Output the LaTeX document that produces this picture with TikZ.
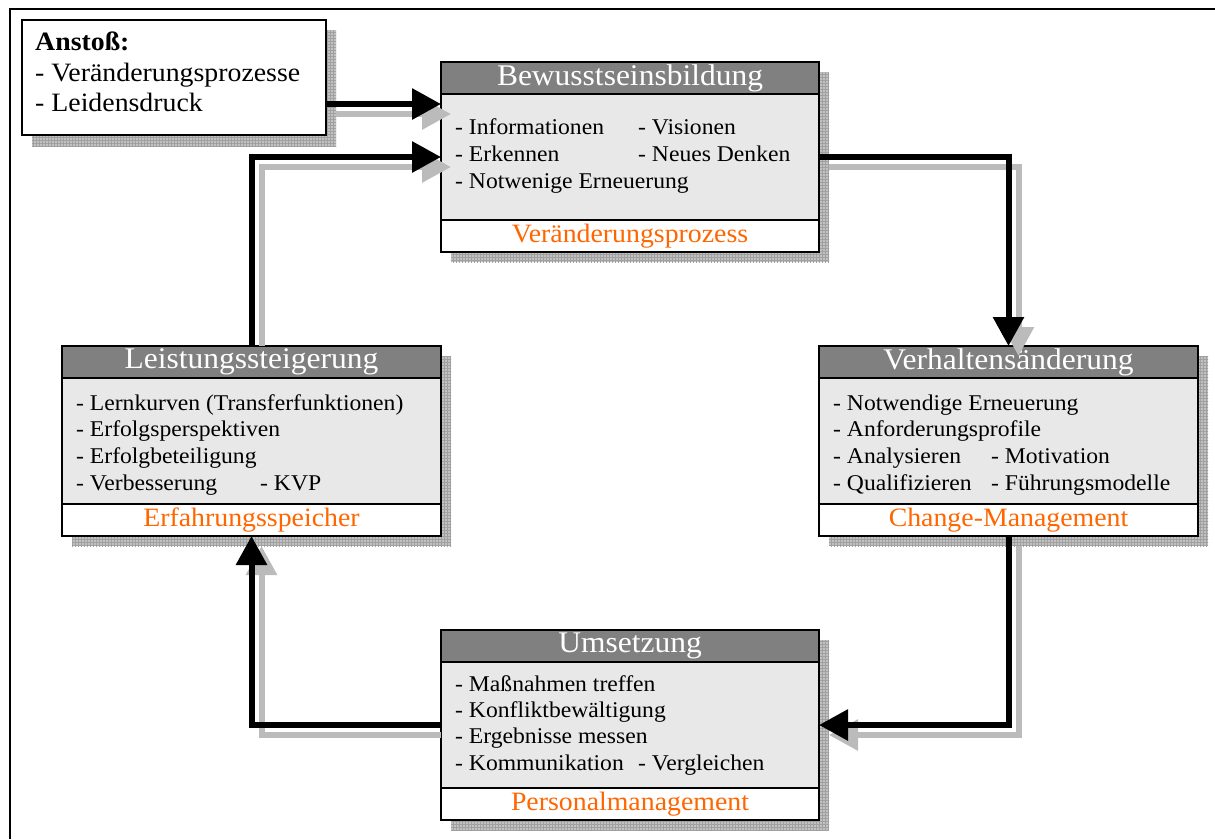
\documentclass[tikz,border=0pt]{standalone}
\usepackage{fontspec}
\setmainfont{Liberation Serif}[FakeStretch=1.05]
\usetikzlibrary{arrows.meta,patterns}

\definecolor{hdrgray}{HTML}{808080}
\definecolor{bodygray}{HTML}{E8E8E8}
\definecolor{accent}{HTML}{FF6600}
\definecolor{shadegray}{HTML}{C2C2C2}
\definecolor{shadeline}{HTML}{A0A0A0}
\definecolor{arrowshade}{HTML}{BBBBBB}

\begin{document}
\begin{tikzpicture}[x=1pt,y=-1pt,
  panel/.style={draw=black, line width=1.3pt, fill=bodygray, inner sep=0pt, outer sep=0pt,
    minimum width=#1, minimum height=190pt, anchor=north west},
  hdr/.style={draw=black, line width=1.3pt, fill=hdrgray, text=white, inner sep=0pt, outer sep=0pt,
    minimum width=#1, minimum height=32pt, anchor=north, font=\fontsize{30}{32}\selectfont},
  ftr/.style={draw=black, line width=1.3pt, fill=white, text=accent, inner sep=0pt, outer sep=0pt,
    minimum width=#1, minimum height=32pt, anchor=south, font=\fontsize{26.5}{28}\selectfont},
  item/.style={anchor=base west, inner sep=0pt, font=\fontsize{22.5}{26}\selectfont},
  lead/.style={anchor=base west, inner sep=0pt, font=\fontsize{26.5}{30}\selectfont},
  boxshade/.style={fill=shadegray, postaction={pattern=grid, pattern color=shadeline}},
  flow/.style={line width=6pt, -{Triangle[length=29pt,width=30pt]}},
  flowshade/.style={flow, draw=arrowshade, transform canvas={shift={(10,10)}}}
]
\useasboundingbox (0,0) rectangle (1215,839);

% page frame (top and left edges)
\draw[line width=2pt] (10,839) -- (10,9) -- (1216,9);

% drop shadows of the boxes
\path[boxshade] (32,30) rectangle (336,146);
\path[boxshade] (451,72) rectangle (829,262);
\path[boxshade] (829,356) rectangle (1208,546);
\path[boxshade] (72,356) rectangle (451,546);
\path[boxshade] (451,640) rectangle (829,830);

% trigger box
\node[draw=black, line width=1.3pt, fill=white, inner sep=0pt, outer sep=0pt,
  minimum width=304pt, minimum height=115pt, anchor=north west] (anstoss) at (22,20) {};
\node[lead] (an1) at (35,50) {\textbf{Anstoß:}};
\node[lead] (an2) at (35,81) {- Veränderungsprozesse};
\node[lead] (an3) at (35,111) {- Leidensdruck};

% Bewusstseinsbildung
\node[panel=378pt] (b1) at (441,62) {};
\node[hdr=378pt] (b1h) at (b1.north) {Bewusstseinsbildung};
\node[ftr=378pt] (b1f) at (b1.south) {Veränderungsprozess};
\node[item] (b1a) at (455,134) {- Informationen};
\node[item] (b1b) at (638,134) {- Visionen};
\node[item] (b1c) at (455,161) {- Erkennen};
\node[item] (b1d) at (638,161) {- Neues Denken};
\node[item] (b1e) at (455,188) {- Notwenige Erneuerung};

% Verhaltensänderung
\node[panel=379pt] (vh) at (819,346) {};
\node[hdr=379pt] (vhh) at (vh.north) {Verhaltensänderung};
\node[ftr=379pt] (vhf) at (vh.south) {Change-Management};
\node[item] (vha) at (833,410) {- Notwendige Erneuerung};
\node[item] (vhb) at (833,436) {- Anforderungsprofile};
\node[item] (vhc) at (833,463) {- Analysieren};
\node[item] (vhd) at (991,463) {- Motivation};
\node[item] (vhe) at (833,490) {- Qualifizieren};
\node[item] (vhf2) at (991,490) {- Führungsmodelle};

% Leistungssteigerung
\node[panel=379pt] (ls) at (62,346) {};
\node[hdr=379pt] (lsh) at (ls.north) {Leistungssteigerung};
\node[ftr=379pt] (lsf) at (ls.south) {Erfahrungsspeicher};
\node[item] (lsa) at (76,410) {- Lernkurven (Transferfunktionen)};
\node[item] (lsb) at (76,436) {- Erfolgsperspektiven};
\node[item] (lsc) at (76,463) {- Erfolgbeteiligung};
\node[item] (lsd) at (76,490) {- Verbesserung};
\node[item] (lse) at (260,490) {- KVP};

% Umsetzung
\node[panel=378pt] (um) at (441,630) {};
\node[hdr=378pt] (umh) at (um.north) {Umsetzung};
\node[ftr=378pt] (umf) at (um.south) {Personalmanagement};
\node[item] (uma) at (455,691) {- Maßnahmen treffen};
\node[item] (umb) at (455,717) {- Konfliktbewältigung};
\node[item] (umc) at (455,743) {- Ergebnisse messen};
\node[item] (umd) at (455,770) {- Kommunikation};
\node[item] (ume) at (638,770) {- Vergleichen};

% connector end points on the box edges
\coordinate (in1) at (441,104);
\coordinate (in2) at (441,157);
\coordinate (out3) at (819,157);
\coordinate (in4) at (819,725);

% connector shadows
\draw[flowshade] (anstoss.east |- in1) -- (in1);
\draw[flowshade, shorten <=10pt] (ls.north) |- (in2);
\draw[flowshade] (out3) -| (vh.north);
\draw[flowshade] (vh.south) |- (in4);
\draw[flowshade, shorten <=10pt] (um.west |- in4) -| (ls.south);

% connectors
\draw[flow] (anstoss.east |- in1) -- (in1);
\draw[flow] (ls.north) |- (in2);
\draw[flow] (out3) -| (vh.north);
\draw[flow] (vh.south) |- (in4);
\draw[flow] (um.west |- in4) -| (ls.south);
\end{tikzpicture}
\end{document}
